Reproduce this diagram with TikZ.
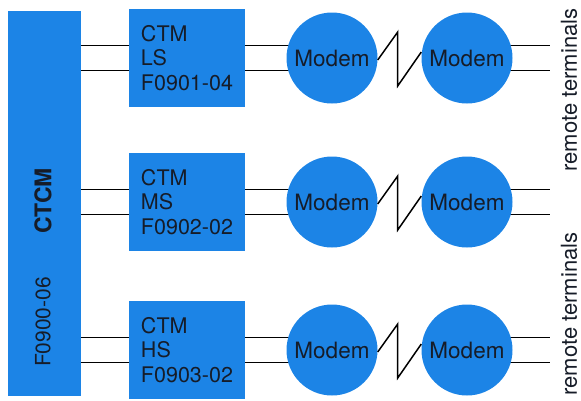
\documentclass[tikz,border=0pt]{standalone}
\usepackage{fontspec}
\setmainfont{TeX Gyre Heros}
\usetikzlibrary{backgrounds}
\definecolor{scanblue}{RGB}{28,132,230}
\definecolor{ink}{RGB}{22,28,40}

\begin{document}
\begin{tikzpicture}[x=1pt,y=-1pt,
	unit/.style={fill=scanblue,text=ink,inner sep=0pt},
	ctmbox/.style={unit,rectangle,minimum width=116pt,minimum height=98pt,align=left,font=\fontsize{21.5}{24.5}\selectfont},
	modem/.style={unit,circle,minimum size=91pt,font=\fontsize{22.5}{24}\selectfont},
	vlabel/.style={rotate=90,text=ink,inner sep=0pt},
	wire/.style={line width=1.5pt,black}]
	\useasboundingbox (0,0) rectangle (581,400);
	\node[unit,minimum width=73pt,minimum height=385pt] (ctcm) at (44.5,203.5) {};
	\node[vlabel,font=\bfseries\fontsize{23}{26}\selectfont] (ctcmname) at (43,201) {CTCM};
	\node[vlabel,font=\fontsize{21}{24}\selectfont] (ctcmcode) at (43,322) {F0900-06};
	\foreach \n/\y/\speed/\code in {1/58/LS/F0901-04,2/202/MS/F0902-02,3/350/HS/F0903-02}
	{
		\node[ctmbox] (ctm\n) at (187,\y) {CTM\\\speed\\\code};
		\node[modem] (ma\n) at (332,\y) {Modem};
		\node[modem] (mb\n) at (467,\y) {Modem};
		\coordinate (rt\n) at (550,\y);
		\begin{scope}[on background layer]
			\foreach \d in {-12.5,12.5}
				{\coordinate (w) at ([yshift=\d pt]ctm\n.west);
				 \draw[wire] (w) -- (w -| ctcm.center);
				 \draw[wire] ([yshift=\d pt]ctm\n.east) -- ([yshift=\d pt]ma\n.center);
				 \draw[wire] ([yshift=\d pt]mb\n.center) -- ([yshift=\d pt]rt\n);};
		\end{scope}
		\draw[wire] ([yshift=-2pt]ma\n.east) -- ++(20,-28) -- ++(0,54) -- ([yshift=6pt]mb\n.west);
	};
	\node[vlabel,font=\fontsize{22}{24}\selectfont] (termsA) at (569,90) {remote terminals};
	\node[vlabel,font=\fontsize{22}{24}\selectfont] (termsB) at (569,314) {remote terminals};
\end{tikzpicture}
\end{document}
